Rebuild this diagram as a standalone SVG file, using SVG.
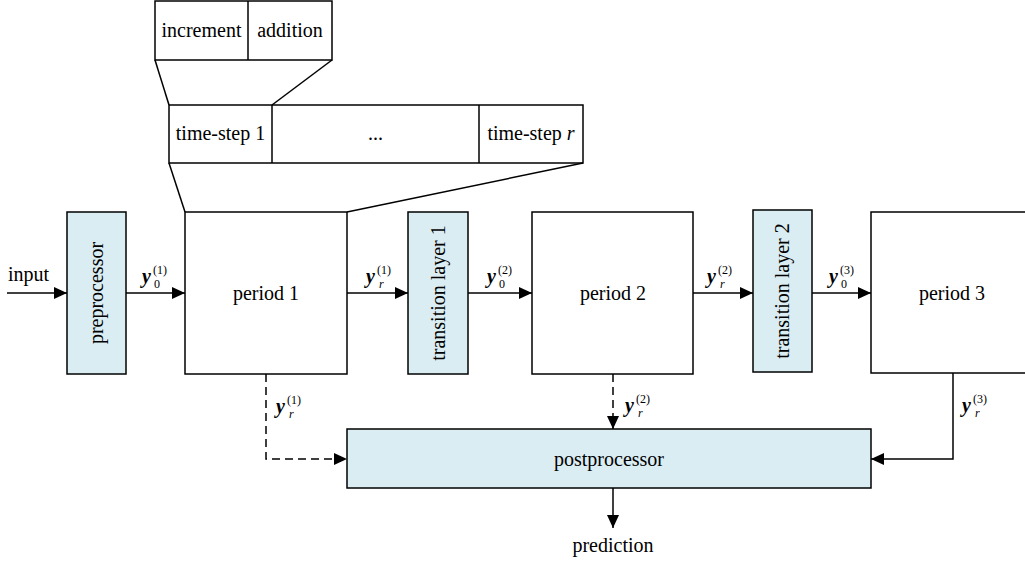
<svg xmlns="http://www.w3.org/2000/svg" width="1025" height="565" viewBox="0 0 1025 565" font-family="'Liberation Serif', 'DejaVu Serif', serif">
<defs>
<marker id="ah" viewBox="0 0 13 12" refX="13" refY="6" markerWidth="13" markerHeight="12" markerUnits="userSpaceOnUse" orient="auto">
<path d="M0,0 L13,6 L0,12 Z" fill="#000"/>
</marker>
<style>
text{font-family:'Liberation Serif','DejaVu Serif',serif;font-size:20px;fill:#000}
.box{fill:#fff;stroke:#000;stroke-width:1.5}
.blue{fill:#daedf3;stroke:#000;stroke-width:1.5}
.ln{fill:none;stroke:#000;stroke-width:1.5}
.ar{fill:none;stroke:#000;stroke-width:1.5;marker-end:url(#ah)}
.dash{stroke-dasharray:8 5}
.c{text-anchor:middle}
.y{font-weight:bold;font-style:italic}
.s{font-size:12px}
.i{font-style:italic}
</style>
</defs>

<g id="zoom-level2">
<rect class="box" x="155" y="1" width="177" height="59"/>
<line class="ln" x1="248" y1="1" x2="248" y2="60"/>
<text x="201.5" y="37" class="c">increment</text>
<text x="290" y="37" class="c">addition</text>
</g>

<g id="zoom-level1">
<rect class="box" x="169" y="105" width="414" height="58"/>
<line class="ln" x1="272" y1="105" x2="272" y2="163"/>
<line class="ln" x1="479" y1="105" x2="479" y2="163"/>
<text x="220.5" y="140" class="c">time-step 1</text>
<text x="375.5" y="140" class="c">...</text>
<text x="531" y="140" class="c">time-step <tspan class="i">r</tspan></text>
</g>

<g id="zoom-lines">
<line class="ln" x1="155" y1="60" x2="169" y2="105"/>
<line class="ln" x1="332" y1="60" x2="272" y2="105"/>
<line class="ln" x1="169" y1="163" x2="185" y2="212"/>
<line class="ln" x1="583" y1="163" x2="347" y2="212"/>
</g>

<g id="preprocessor">
<rect class="blue" x="67" y="212" width="59" height="162"/>
<text class="c" transform="translate(103,293) rotate(-90)">preprocessor</text>
</g>
<g id="period1">
<rect class="box" x="185" y="212" width="162" height="162"/>
<text x="266" y="300" class="c">period 1</text>
</g>
<g id="transition1">
<rect class="blue" x="408" y="212" width="60" height="162"/>
<text class="c" transform="translate(445,293) rotate(-90)">transition layer 1</text>
</g>
<g id="period2">
<rect class="box" x="532" y="212" width="161" height="162"/>
<text x="613" y="300" class="c">period 2</text>
</g>
<g id="transition2">
<rect class="blue" x="753" y="210" width="59" height="162"/>
<text class="c" transform="translate(789,291) rotate(-90)">transition layer 2</text>
</g>
<g id="period3">
<rect class="box" x="871" y="212" width="170" height="161"/>
<text x="952" y="300" class="c">period 3</text>
</g>
<g id="postprocessor">
<rect class="blue" x="347" y="429" width="524" height="59"/>
<text x="609" y="466" class="c">postprocessor</text>
</g>

<g id="connectors">
<line class="ar" x1="7" y1="293" x2="67" y2="293"/>
<line class="ar" x1="126" y1="293" x2="185" y2="293"/>
<line class="ar" x1="347" y1="293" x2="408" y2="293"/>
<line class="ar" x1="468" y1="293" x2="532" y2="293"/>
<line class="ar" x1="693" y1="293" x2="753" y2="293"/>
<line class="ar" x1="812" y1="293" x2="871" y2="293"/>
<polyline class="ar dash" points="266,374 266,459 347,459"/>
<line class="ar dash" x1="613" y1="374" x2="613" y2="429"/>
<polyline class="ar" points="953,373 953,459 871,459"/>
<line class="ar" x1="613" y1="488" x2="613" y2="528"/>
</g>

<g id="labels">
<text x="8" y="281">input</text>
<text x="613" y="552" class="c">prediction</text>

<text x="142" y="283"><tspan class="y">y</tspan><tspan class="s" x="153" y="274">(1)</tspan><tspan class="s" x="154" y="288">0</tspan></text>
<text x="366" y="283"><tspan class="y">y</tspan><tspan class="s" x="377" y="274">(1)</tspan><tspan class="s i" x="379" y="288">r</tspan></text>
<text x="487" y="283"><tspan class="y">y</tspan><tspan class="s" x="498" y="274">(2)</tspan><tspan class="s" x="499" y="288">0</tspan></text>
<text x="707" y="283"><tspan class="y">y</tspan><tspan class="s" x="718" y="274">(2)</tspan><tspan class="s i" x="720" y="288">r</tspan></text>
<text x="829" y="283"><tspan class="y">y</tspan><tspan class="s" x="840" y="274">(3)</tspan><tspan class="s" x="841" y="288">0</tspan></text>
<text x="276" y="413"><tspan class="y">y</tspan><tspan class="s" x="287" y="404">(1)</tspan><tspan class="s i" x="289" y="418">r</tspan></text>
<text x="625" y="412"><tspan class="y">y</tspan><tspan class="s" x="636" y="403">(2)</tspan><tspan class="s i" x="638" y="417">r</tspan></text>
<text x="962" y="412"><tspan class="y">y</tspan><tspan class="s" x="973" y="403">(3)</tspan><tspan class="s i" x="975" y="417">r</tspan></text>
</g>
</svg>
